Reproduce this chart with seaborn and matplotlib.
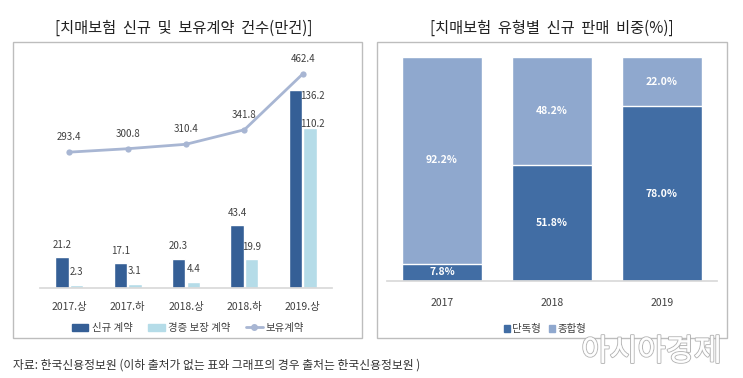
import pandas as pd
import matplotlib.pyplot as plt
import matplotlib.patheffects as pe
from matplotlib.patches import Rectangle, Patch
from matplotlib.lines import Line2D
import seaborn as sns

# 데이터
periods = ["2017.상", "2017.하", "2018.상", "2018.하", "2019.상"]
new_contracts = [21.2, 17.1, 20.3, 43.4, 136.2]
mild_contracts = [2.3, 3.1, 4.4, 19.9, 110.2]
held_contracts = [293.4, 300.8, 310.4, 341.8, 462.4]

years = ["2017", "2018", "2019"]
single_share = [7.8, 51.8, 78.0]
combined_share = [92.2, 48.2, 22.0]

DARK = "#355F96"
LIGHT = "#B5DCE8"
LINE = "#A8B6D3"
R_DARK = "#416DA4"
R_LIGHT = "#8FA8CE"
TXT = "#404040"

sns.set_theme(style="white")
plt.rcParams["font.family"] = ["Noto Sans CJK KR", "DejaVu Sans"]

fig = plt.figure(figsize=(7.43, 3.78), dpi=100)
W, H = 743, 378

def fx(px):
    return px / W

def fy(py):
    return 1 - py / H

# 패널 테두리
for x0, x1 in [(13, 362), (377, 727)]:
    fig.patches.append(Rectangle((fx(x0), fy(338)), fx(x1 - x0), (338 - 42) / H,
                                 transform=fig.transFigure, fill=False,
                                 edgecolor="#BDBDBD", linewidth=1.0))

fig.text(fx(184), fy(28), "[치매보험  신규  및  보유계약  건수(만건)]", ha="center", va="center",
         fontsize=11, fontweight="medium", color="#222222")
fig.text(fx(552), fy(28), "[치매보험  유형별  신규  판매  비중(%)]", ha="center", va="center",
         fontsize=11, fontweight="medium", color="#222222")

# ---------------- 왼쪽: 신규/보유 계약 ----------------
ax = fig.add_axes([fx(40), fy(288), fx(292), (288 - 50) / H])
df_bar = pd.DataFrame({
    "period": periods * 2,
    "value": new_contracts + mild_contracts,
    "type": ["신규 계약"] * 5 + ["경증 보장 계약"] * 5,
})
sns.barplot(data=df_bar, x="period", y="value", hue="type", palette=[DARK, LIGHT],
            saturation=1, width=0.5, gap=0.08, ax=ax, legend=False)
ax.set_ylim(0, 164)
ax.set_xlim(-0.5, 4.5)
ax.set_xlabel("")
ax.set_ylabel("")
ax.set_yticks([])
ax.tick_params(axis="x", labelsize=7.5, colors=TXT, length=0, pad=10)
for s in ["top", "left", "right"]:
    ax.spines[s].set_visible(False)
ax.spines["bottom"].set_color("#D9D9D9")

for i, (n, m) in enumerate(zip(new_contracts, mild_contracts)):
    if i < 4:
        ax.text(i - 0.125, n + 5, f"{n}", ha="center", va="bottom", fontsize=7,
                fontweight="medium", color=TXT)
        ax.text(i + 0.125, m + 5, f"{m}", ha="center", va="bottom", fontsize=7,
                fontweight="medium", color=TXT)
    else:
        ax.text(i + 0.17, n - 4, f"{n}", ha="center", va="center", fontsize=7,
                fontweight="medium", color=TXT)
        ax.text(i + 0.17, m + 3, f"{m}", ha="center", va="center", fontsize=7,
                fontweight="medium", color=TXT)

ax2 = ax.twinx()
sns.lineplot(x=list(range(5)), y=held_contracts, color=LINE, linewidth=2, marker="o",
             markersize=4.5, markeredgewidth=0, ax=ax2)
ax2.set_ylim(0, 514)
ax2.set_yticks([])
for s in ["top", "left", "right", "bottom"]:
    ax2.spines[s].set_visible(False)
for i, v in enumerate(held_contracts):
    ax2.text(i, v + 22, f"{v}", ha="center", va="bottom", fontsize=7,
             fontweight="medium", color=TXT)

handles = [Patch(color=DARK), Patch(color=LIGHT),
           Line2D([0], [0], color=LINE, lw=2, marker="o", markersize=4)]
fig.legend(handles, ["신규 계약", "경증 보장 계약", "보유계약"], loc="center",
           bbox_to_anchor=(fx(188), fy(328)), ncol=3, frameon=False, fontsize=7.5,
           handlelength=1.6, handleheight=0.7, columnspacing=1.5, handletextpad=0.3,
           labelcolor=TXT)

# ---------------- 오른쪽: 유형별 비중 ----------------
bx = fig.add_axes([fx(387), fy(281), fx(330), (281 - 57) / H])
totals = [s + c for s, c in zip(single_share, combined_share)]
sns.barplot(x=years, y=totals, color=R_LIGHT, saturation=1, width=0.72, ax=bx)
sns.barplot(x=years, y=single_share, color=R_DARK, saturation=1, width=0.72, ax=bx)
bx.set_ylim(0, 100)
bx.set_xlim(-0.5, 2.5)
bx.set_yticks([])
bx.tick_params(axis="x", labelsize=7.5, colors=TXT, length=0, pad=12)
for s in ["top", "left", "right"]:
    bx.spines[s].set_visible(False)
bx.spines["bottom"].set_color("#D9D9D9")

for i, (s, c) in enumerate(zip(single_share, combined_share)):
    bx.text(i, s / 2, f"{s:.1f}%", ha="center", va="center", fontsize=7.5,
            fontweight="bold", color="white")
    bx.text(i, s + c / 2, f"{c:.1f}%", ha="center", va="center", fontsize=7.5,
            fontweight="bold", color="white")

fig.legend([Patch(color=R_DARK), Patch(color=R_LIGHT)], ["단독형", "종합형"], loc="center",
           bbox_to_anchor=(fx(545), fy(329)), ncol=2, frameon=False, fontsize=7.5,
           handlelength=0.6, handleheight=0.7, columnspacing=0.8, handletextpad=0.2,
           labelcolor=TXT)

# 출처 / 워터마크
fig.text(fx(13), fy(365), "자료: 한국신용정보원 (이하 출처가 없는 표와 그래프의 경우 출처는 한국신용정보원 )",
         ha="left", va="center", fontsize=8.5, color="#333333")
wm = fig.text(fx(722), fy(352), "아시아경제", ha="right", va="center", fontsize=22,
              color="white", alpha=0.9)
wm.set_path_effects([pe.withStroke(linewidth=1.5, foreground="#B0B0B0"), pe.Normal()])

fig.savefig("out.png", dpi=100, facecolor="white")
